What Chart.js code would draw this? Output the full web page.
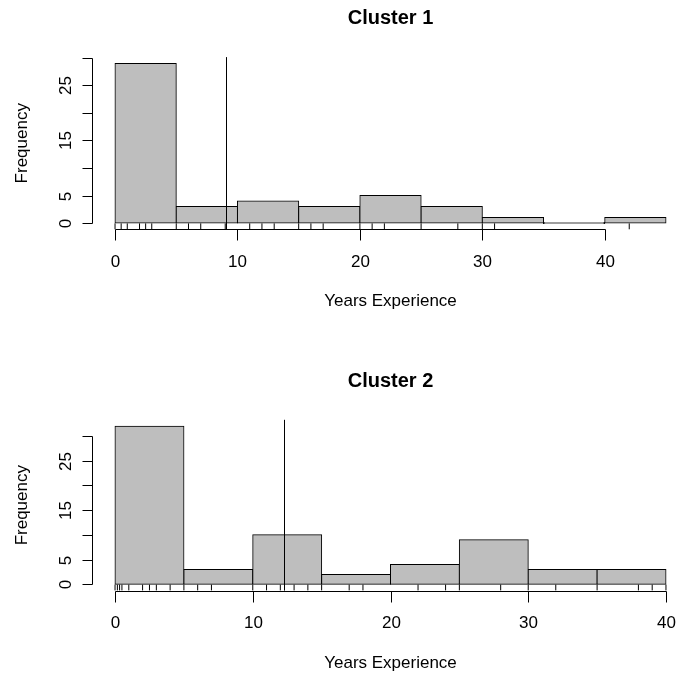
<!DOCTYPE html>
<html>
<head>
<meta charset="utf-8">
<script src="https://cdn.jsdelivr.net/npm/chart.js@4.4.1/dist/chart.umd.min.js"></script>
<style>
  html, body { margin: 0; padding: 0; background: #fff; overflow: hidden; }
  canvas { position: absolute; left: 0; }
</style>
</head>
<body>
<canvas id="cluster1" width="700" height="340" style="top:0"></canvas>
<canvas id="cluster2" width="700" height="339" style="top:340px"></canvas>
<script>
// years of experience, binned by 5
const breaks1 = [0, 5, 10, 15, 20, 25, 30, 35, 40, 45];
const counts1 = [29, 3, 4, 3, 5, 3, 1, 0, 1];
const rug1 = [0, 0.5, 1, 2, 2.5, 3, 5, 6, 7, 9, 11, 12, 13, 15, 16, 17, 20, 21, 22, 25, 28, 30, 31, 42];
const mean1 = 9.09;

const breaks2 = [0, 5, 10, 15, 20, 25, 30, 35, 40];
const counts2 = [32, 3, 10, 2, 4, 9, 3, 3];
const rug2 = [0, 0.17, 0.33, 0.5, 1, 2, 2.5, 3, 4, 5, 6, 7, 10, 11, 12, 13, 14, 15, 17, 18, 22, 24, 25, 28, 30, 32, 35, 38, 39, 40];
const mean2 = 12.25;

const xTicks = [0, 10, 20, 30, 40];
const yTicks = [0, 5, 10, 15, 20, 25, 30];
const yTickLabels = ['0', '5', '', '15', '', '25', ''];

const FONT = '"Liberation Sans", Arial, Helvetica, sans-serif';

function seg(ctx, x1, y1, x2, y2) {
  ctx.beginPath();
  ctx.moveTo(x1, y1);
  ctx.lineTo(x2, y2);
  ctx.stroke();
}

// base-graphics look: axes only as long as the ticks, rotated y labels, mean line
function baseStyle(title, mean) {
  return {
    id: 'baseStyle',
    afterDatasetsDraw(chart) {
      const { ctx, chartArea: a, scales: { x, y } } = chart;
      ctx.save();
      ctx.strokeStyle = '#000';
      ctx.fillStyle = '#000';
      ctx.lineWidth = 1;

      const mx = Math.round(x.getPixelForValue(mean)) + 0.5;
      seg(ctx, mx, a.top, mx, a.bottom);

      // side 1
      const ay = Math.round(a.bottom) + 0.5;
      seg(ctx, Math.round(x.getPixelForValue(xTicks[0])) + 0.5, ay,
               Math.round(x.getPixelForValue(xTicks[xTicks.length - 1])) + 0.5, ay);
      ctx.font = '17px ' + FONT;
      ctx.textAlign = 'center';
      ctx.textBaseline = 'alphabetic';
      xTicks.forEach(v => {
        const px = Math.round(x.getPixelForValue(v)) + 0.5;
        seg(ctx, px, ay, px, ay + 11);
        ctx.fillText(String(v), px, a.bottom + 37.3);
      });

      // side 2
      const ax = Math.round(a.left) - 0.5;
      seg(ctx, ax, Math.round(y.getPixelForValue(yTicks[0])) + 0.5,
               ax, Math.round(y.getPixelForValue(yTicks[yTicks.length - 1])) + 0.5);
      yTicks.forEach((v, i) => {
        const py = Math.round(y.getPixelForValue(v)) + 0.5;
        seg(ctx, ax, py, ax - 10, py);
        if (yTickLabels[i]) {
          ctx.save();
          ctx.translate(a.left - 22.3, py);
          ctx.rotate(-Math.PI / 2);
          ctx.fillText(yTickLabels[i], 0, 0);
          ctx.restore();
        }
      });

      const cx = (a.left + a.right) / 2;
      ctx.fillText('Years Experience', cx, a.bottom + 77);

      ctx.save();
      ctx.translate(a.left - 66, (a.top + a.bottom) / 2);
      ctx.rotate(-Math.PI / 2);
      ctx.fillText('Frequency', 0, 0);
      ctx.restore();

      ctx.font = 'bold 20px ' + FONT;
      ctx.fillText(title, cx, a.top - 33);
      ctx.restore();
    }
  };
}

function histogram(id, title, breaks, counts, rug, mean, padding) {
  const xLo = breaks[0], xHi = breaks[breaks.length - 1];
  const top = Math.max(...counts);
  const xPad = (xHi - xLo) * 0.04, yPad = top * 0.04;
  const yMin = -yPad, yMax = top + yPad;
  const rugY = yMin + (yMax - yMin) * 0.017;

  return new Chart(document.getElementById(id), {
    type: 'bar',
    data: {
      datasets: [
        {
          data: counts.map((c, i) => ({ x: (breaks[i] + breaks[i + 1]) / 2, y: c })),
          backgroundColor: '#bebebe',
          borderColor: '#000',
          borderWidth: 1,
          borderSkipped: false,
          inflateAmount: 0.5,
          barPercentage: 1,
          categoryPercentage: 1,
          minBarLength: 1
        },
        {
          type: 'scatter',
          data: rug.map(v => ({ x: v, y: rugY })),
          pointStyle: 'line',
          pointRotation: 90,
          pointRadius: 3.1,
          pointHoverRadius: 3.1,
          pointBorderColor: '#000',
          pointBorderWidth: 1
        }
      ]
    },
    options: {
      responsive: false,
      animation: false,
      events: [],
      devicePixelRatio: 1,
      layout: { padding },
      plugins: { legend: { display: false }, tooltip: { enabled: false } },
      scales: {
        x: {
          type: 'linear',
          display: false,
          offset: false,
          min: xLo - xPad,
          max: xHi + xPad,
          afterBuildTicks: s => { s.ticks = xTicks.map(v => ({ value: v })); }
        },
        y: { display: false, min: yMin, max: yMax }
      }
    },
    plugins: [baseStyle(title, mean)]
  });
}

histogram('cluster1', 'Cluster 1', breaks1, counts1, rug1, mean1,
  { left: 93, right: 12, top: 57.1, bottom: 110.6 });
histogram('cluster2', 'Cluster 2', breaks2, counts2, rug2, mean2,
  { left: 93, right: 12, top: 79.8, bottom: 88.4 });
</script>
</body>
</html>
